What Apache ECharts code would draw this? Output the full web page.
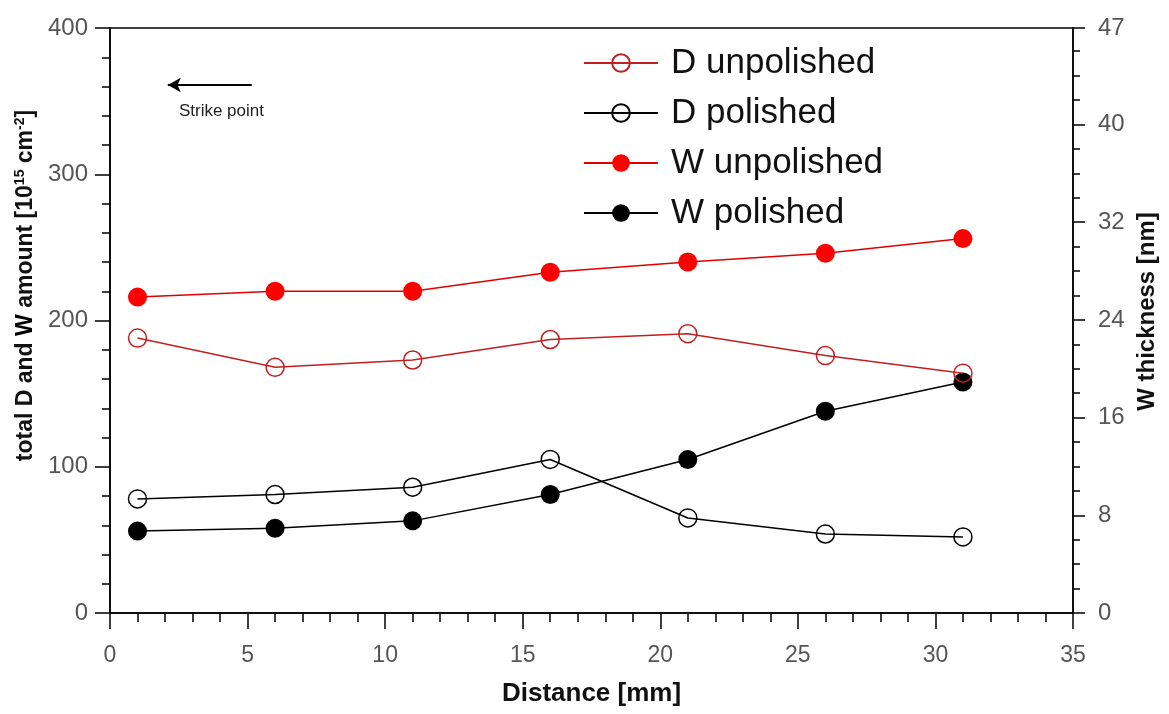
<!DOCTYPE html>
<html>
<head>
<meta charset="utf-8">
<script src="https://cdn.jsdelivr.net/npm/echarts@6/dist/echarts.min.js"></script>
<style>
  html, body { margin: 0; padding: 0; background: #fff; }
  #my_chart { width: 1169px; height: 714px; }
</style>
</head>
<body>
<div id="my_chart"></div>
<script>
  // distances along the tile [mm]
  var distance = [1, 6, 11, 16, 21, 26, 31];
  // amounts [10^15 cm^-2]
  var dUnpolished = [188, 168, 173, 187, 191, 176, 164];
  var dPolished = [78, 81, 86, 105, 65, 54, 52];
  var wUnpolished = [216, 220, 220, 233, 240, 246, 256];
  var wPolished = [56, 58, 63, 81, 105, 138, 158];
  var seriesNames = ['D unpolished', 'D polished', 'W unpolished', 'W polished'];
  // strike point annotation (data coords)
  var strikeArrow = [[5.15, 361], [2.1, 361]];
  var strikeText = [4.05, 343];

  function pairs(ys) {
    return distance.map(function (d, i) { return [d, ys[i]]; });
  }

  var my_chart = echarts.init(document.getElementById('my_chart'));

  var font = 'Liberation Sans, Arial, sans-serif';
  var narrow = 'Liberation Sans Narrow, Arial Narrow, Liberation Sans, sans-serif';

  my_chart.setOption({
    animation: false,
    backgroundColor: '#fff',
    grid: {
      left: 110, right: 96, top: 28, bottom: 101,
      show: true, borderColor: '#000', borderWidth: 1.5
    },
    legend: {
      orient: 'vertical',
      left: 578,
      top: 38,
      itemWidth: 74,
      itemHeight: 22,
      itemGap: 10,
      textStyle: { fontFamily: font, fontSize: 35, color: '#111', lineHeight: 40, padding: [0, 0, 0, 8] },
      data: seriesNames
    },
    xAxis: {
      type: 'value',
      min: 0, max: 35, interval: 5,
      name: 'Distance [mm]',
      nameLocation: 'middle',
      nameGap: 68,
      nameTextStyle: { fontFamily: narrow, fontWeight: 'bold', fontSize: 26, color: '#111' },
      axisLine: { lineStyle: { color: '#000', width: 1.5 } },
      axisTick: { length: 16, lineStyle: { color: '#000', width: 1.5 } },
      minorTick: { show: true, splitNumber: 5, length: 9, lineStyle: { color: '#000', width: 1.5 } },
      axisLabel: { margin: 31, fontFamily: narrow, fontSize: 23, color: '#555' },
      splitLine: { show: false }
    },
    yAxis: [{
      type: 'value',
      min: 0, max: 400, interval: 100,
      name: '{b|total D and }{w|W}{b| amount [10}{s|15}{b| cm}{s|-2}{b|]}',
      nameLocation: 'middle',
      nameRotate: 90,
      nameGap: 72,
      nameTextStyle: {
        padding: [0, 0, 0, 70],
        rich: {
          b: { fontFamily: font, fontWeight: 'bold', fontSize: 23, color: '#111' },
          w: { fontFamily: font, fontWeight: 900, fontSize: 23, color: '#000' },
          s: { fontFamily: font, fontWeight: 'bold', fontSize: 14, color: '#111', verticalAlign: 'top', padding: [0, 0, 10, 0] }
        }
      },
      axisLine: { show: true, lineStyle: { color: '#000', width: 1.5 } },
      axisTick: { show: true, length: 15, lineStyle: { color: '#000', width: 1.5 } },
      minorTick: { show: true, splitNumber: 5, length: 8, lineStyle: { color: '#000', width: 1.5 } },
      axisLabel: { margin: 22, fontFamily: font, fontSize: 24, color: '#555' },
      splitLine: { show: false }
    }, {
      type: 'value',
      position: 'right',
      min: 0, max: 47.9, interval: 8,
      name: 'W thickness [nm]',
      nameLocation: 'middle',
      nameRotate: 90,
      nameGap: 60,
      nameTextStyle: { fontFamily: font, fontWeight: 'bold', fontSize: 24, color: '#111', padding: [0, 0, 0, 18] },
      axisLine: { show: true, lineStyle: { color: '#000', width: 1.5 } },
      axisTick: { show: true, length: 12, lineStyle: { color: '#000', width: 1.5 } },
      minorTick: { show: true, splitNumber: 4, length: 7, lineStyle: { color: '#000', width: 1.5 } },
      axisLabel: {
        margin: 25, fontFamily: font, fontSize: 24, color: '#555',
        formatter: function (v) { return String(Math.floor(v)); }
      },
      splitLine: { show: false }
    }],
    series: [{
      name: 'W unpolished',
      type: 'line',
      data: pairs(wUnpolished),
      symbol: 'circle',
      symbolSize: 19,
      lineStyle: { color: '#e00000', width: 1.5 },
      itemStyle: { color: '#ff0000' },
      z: 2
    }, {
      name: 'W polished',
      type: 'line',
      data: pairs(wPolished),
      symbol: 'circle',
      symbolSize: 19,
      lineStyle: { color: '#000', width: 1.5 },
      itemStyle: { color: '#000' },
      z: 2
    }, {
      name: 'D polished',
      type: 'line',
      data: pairs(dPolished),
      symbol: 'circle',
      symbolSize: 18,
      lineStyle: { color: '#000', width: 1.5 },
      itemStyle: { color: 'rgba(255,255,255,0)', borderColor: '#000', borderWidth: 1.5 },
      z: 3
    }, {
      name: 'D unpolished',
      type: 'line',
      data: pairs(dUnpolished),
      symbol: 'circle',
      symbolSize: 18,
      lineStyle: { color: '#c02020', width: 1.5 },
      itemStyle: { color: 'rgba(255,255,255,0)', borderColor: '#c02020', borderWidth: 1.5 },
      z: 4,
      markLine: {
        silent: true,
        symbol: ['none', 'arrow'],
        symbolSize: [11, 13],
        label: { show: false },
        lineStyle: { color: '#000', width: 2, type: 'solid' },
        data: [[{ coord: strikeArrow[0] }, { coord: strikeArrow[1] }]]
      },
      markPoint: {
        silent: true,
        symbol: 'circle',
        symbolSize: 0,
        label: {
          show: true, position: 'inside', formatter: 'Strike point',
          fontFamily: font, fontSize: 17, color: '#222'
        },
        data: [{ coord: strikeText }]
      }
    }]
  });
</script>
</body>
</html>
